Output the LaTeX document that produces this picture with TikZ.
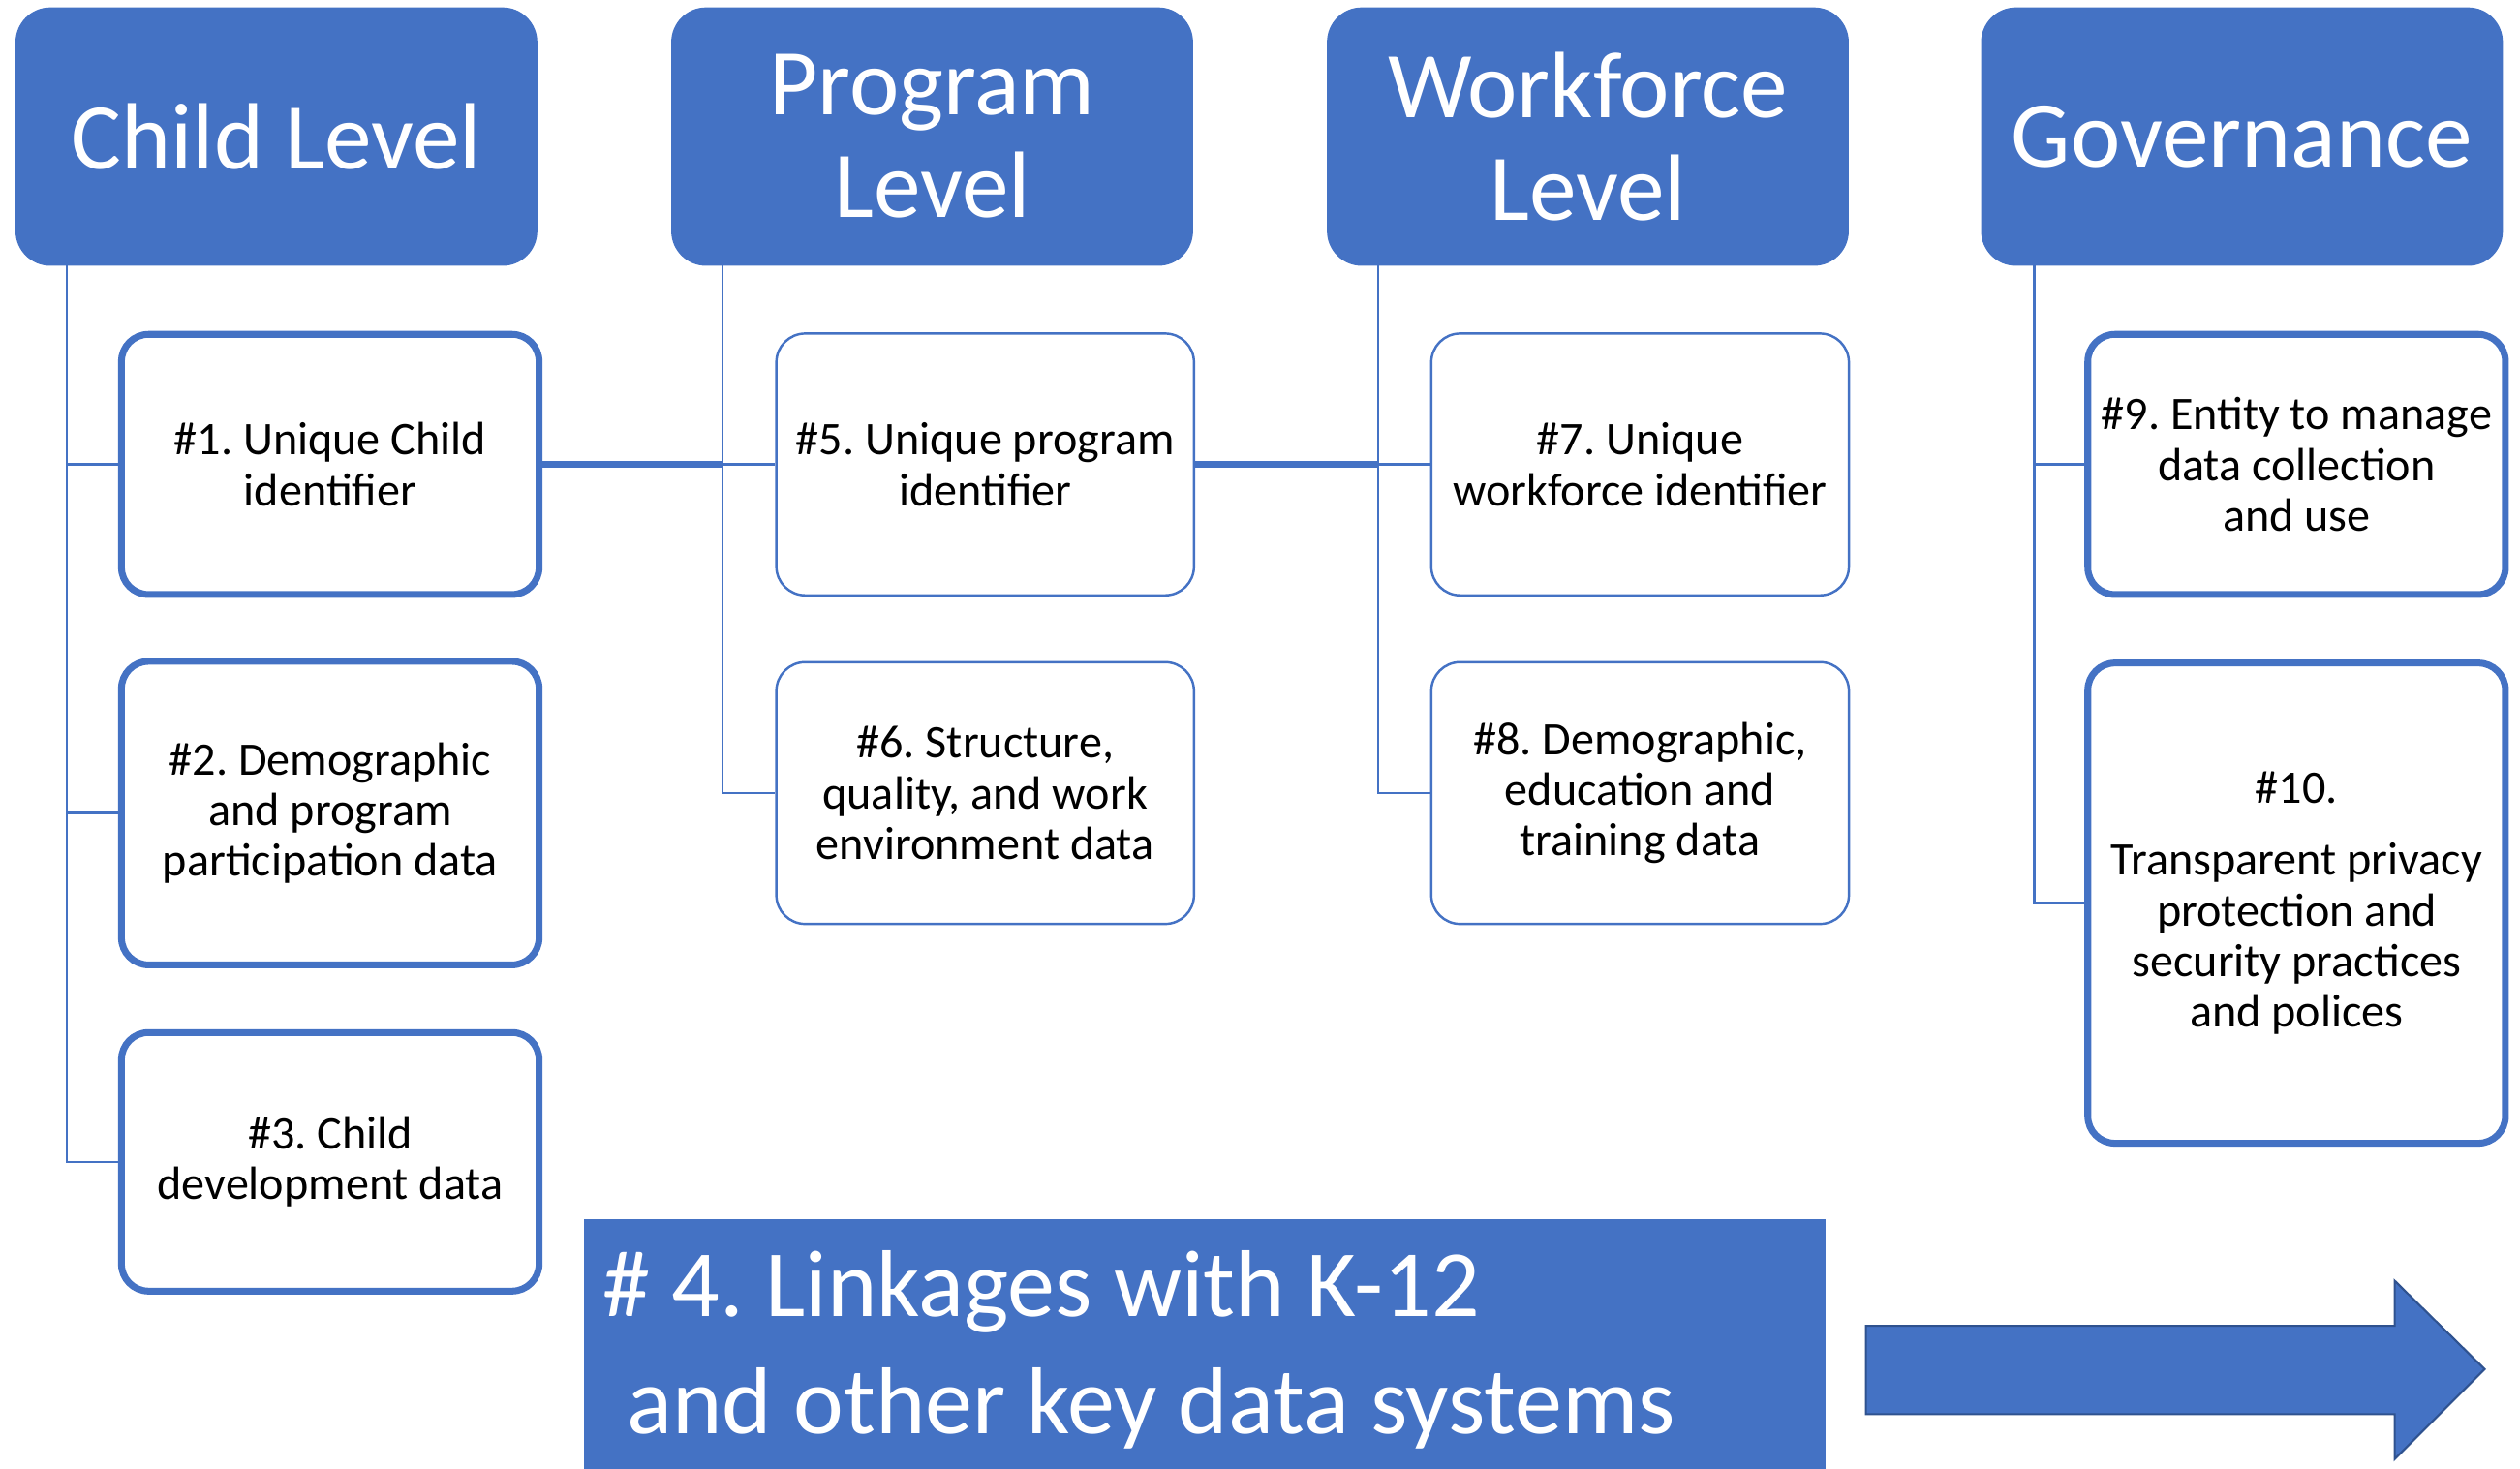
\documentclass[tikz,border=0pt]{standalone}
\usepackage{fontspec}
\setmainfont{Carlito}
\usetikzlibrary{calc}
\definecolor{ob}{HTML}{4472C4}
\definecolor{obd}{HTML}{2F528F}
\frenchspacing
\begin{document}
\frenchspacing
\begin{tikzpicture}[x=0.016594cm,y=-0.016594cm,
  head/.style={fill=ob, draw=ob, rounded corners=10pt, text=white,
    font=\fontsize{27.7}{30.2}\selectfont, align=center,
    minimum width={324*0.4721pt}, minimum height={160*0.4721pt}, inner sep=0pt},
  itembox/.style={draw=ob, fill=white, align=center, inner sep=0pt,
    font=\fontsize{13.7}{14.9}\selectfont, minimum width={260*0.4721pt}},
  boldbox/.style={itembox, line width=2pt, rounded corners=8pt},
  lightbox/.style={itembox, line width=0.7pt, rounded corners=8.5pt},
  conn/.style={draw=ob, line width=0.7pt},
  bigconn/.style={draw=ob, line width=1.9pt}]
\useasboundingbox (0,0) rectangle (1568,913.6);

% headers
\node[head] (hC) at (172,85) {Child Level};
\node[head] (hP) at (580,85) {Program\\Level};
\node[head] (hW) at (988,85) {Workforce\\Level};
\node[head] (hG) at (1395,85) {Governance};

% child level
\node[boldbox, minimum height={162*0.4721pt}] (b1) at (205.5,289) {\#1. Unique Child\\identifier};
\node[boldbox, minimum height={189*0.4721pt}] (b2) at (205.5,506) {\#2. Demographic\\and program\\participation data};
\node[boldbox, minimum height={161*0.4721pt}] (b3) at (205.5,723) {\#3. Child\\development data};

% program level
\node[lightbox, minimum height={163*0.4721pt}] (b5) at (613,289) {\#5. Unique program\\identifier};
\node[lightbox, minimum height={163*0.4721pt}] (b6) at (613,493.5) {\#6. Structure,\\quality, and work\\environment data};

% workforce level
\node[lightbox, minimum height={163*0.4721pt}] (b7) at (1020.5,289) {\#7. Unique\\workforce identifier};
\node[lightbox, minimum height={163*0.4721pt}] (b8) at (1020.5,493.5) {\#8. Demographic,\\education and\\training data};

% governance
\node[boldbox, minimum height={162*0.4721pt}] (b9) at (1429,289) {\#9. Entity to manage\\data collection\\and use};
\node[boldbox, minimum height={299*0.4721pt}] (b10) at (1429,562) {\#10.\\[6.4pt]Transparent privacy\\protection and\\security practices\\and polices};

% trunks
\coordinate (tC) at ($(hC.south west)+(32,0)$);
\coordinate (tP) at ($(hP.south west)+(32,0)$);
\coordinate (tW) at ($(hW.south west)+(32,0)$);
\coordinate (tG) at ($(hG.south west)+(33,0)$);

\draw[conn] (tC) |- (b1.west);
\draw[conn] (tC) |- (b2.west);
\draw[conn] (tC) |- (b3.west);
\draw[conn] (tP) |- (b5.west);
\draw[conn] (tP) |- (b6.west);
\draw[conn] (tW) |- (b7.west);
\draw[conn] (tW) |- (b8.west);
\draw[conn] (tG) |- (b9.west);
\draw[conn] (tG) |- (b10.west);

\draw[bigconn] (b1.east) -- (b1.east -| tP);
\draw[bigconn] (b5.east) -- (b5.east -| tW);

% bottom box
\node[fill=ob, minimum width={773*0.4721pt}, minimum height={155.6*0.4721pt},
  anchor=north west, inner sep=0pt] (k12) at (363,758) {};
\node[text=white, font=\fontsize{27.9}{34.6}\selectfont, align=left, anchor=west, inner sep=0pt]
  (k12t) at (375,840) {\# 4. Linkages with K-12\\\hspace*{7pt}and other key data systems};

% arrow
\draw[fill=ob, draw=obd, line width=0.6pt] (1161,825) -- (1490,825) -- (1490,797) -- (1546,852)
  -- (1490,908) -- (1490,880) -- (1161,880) -- cycle;
\end{tikzpicture}
\end{document}
